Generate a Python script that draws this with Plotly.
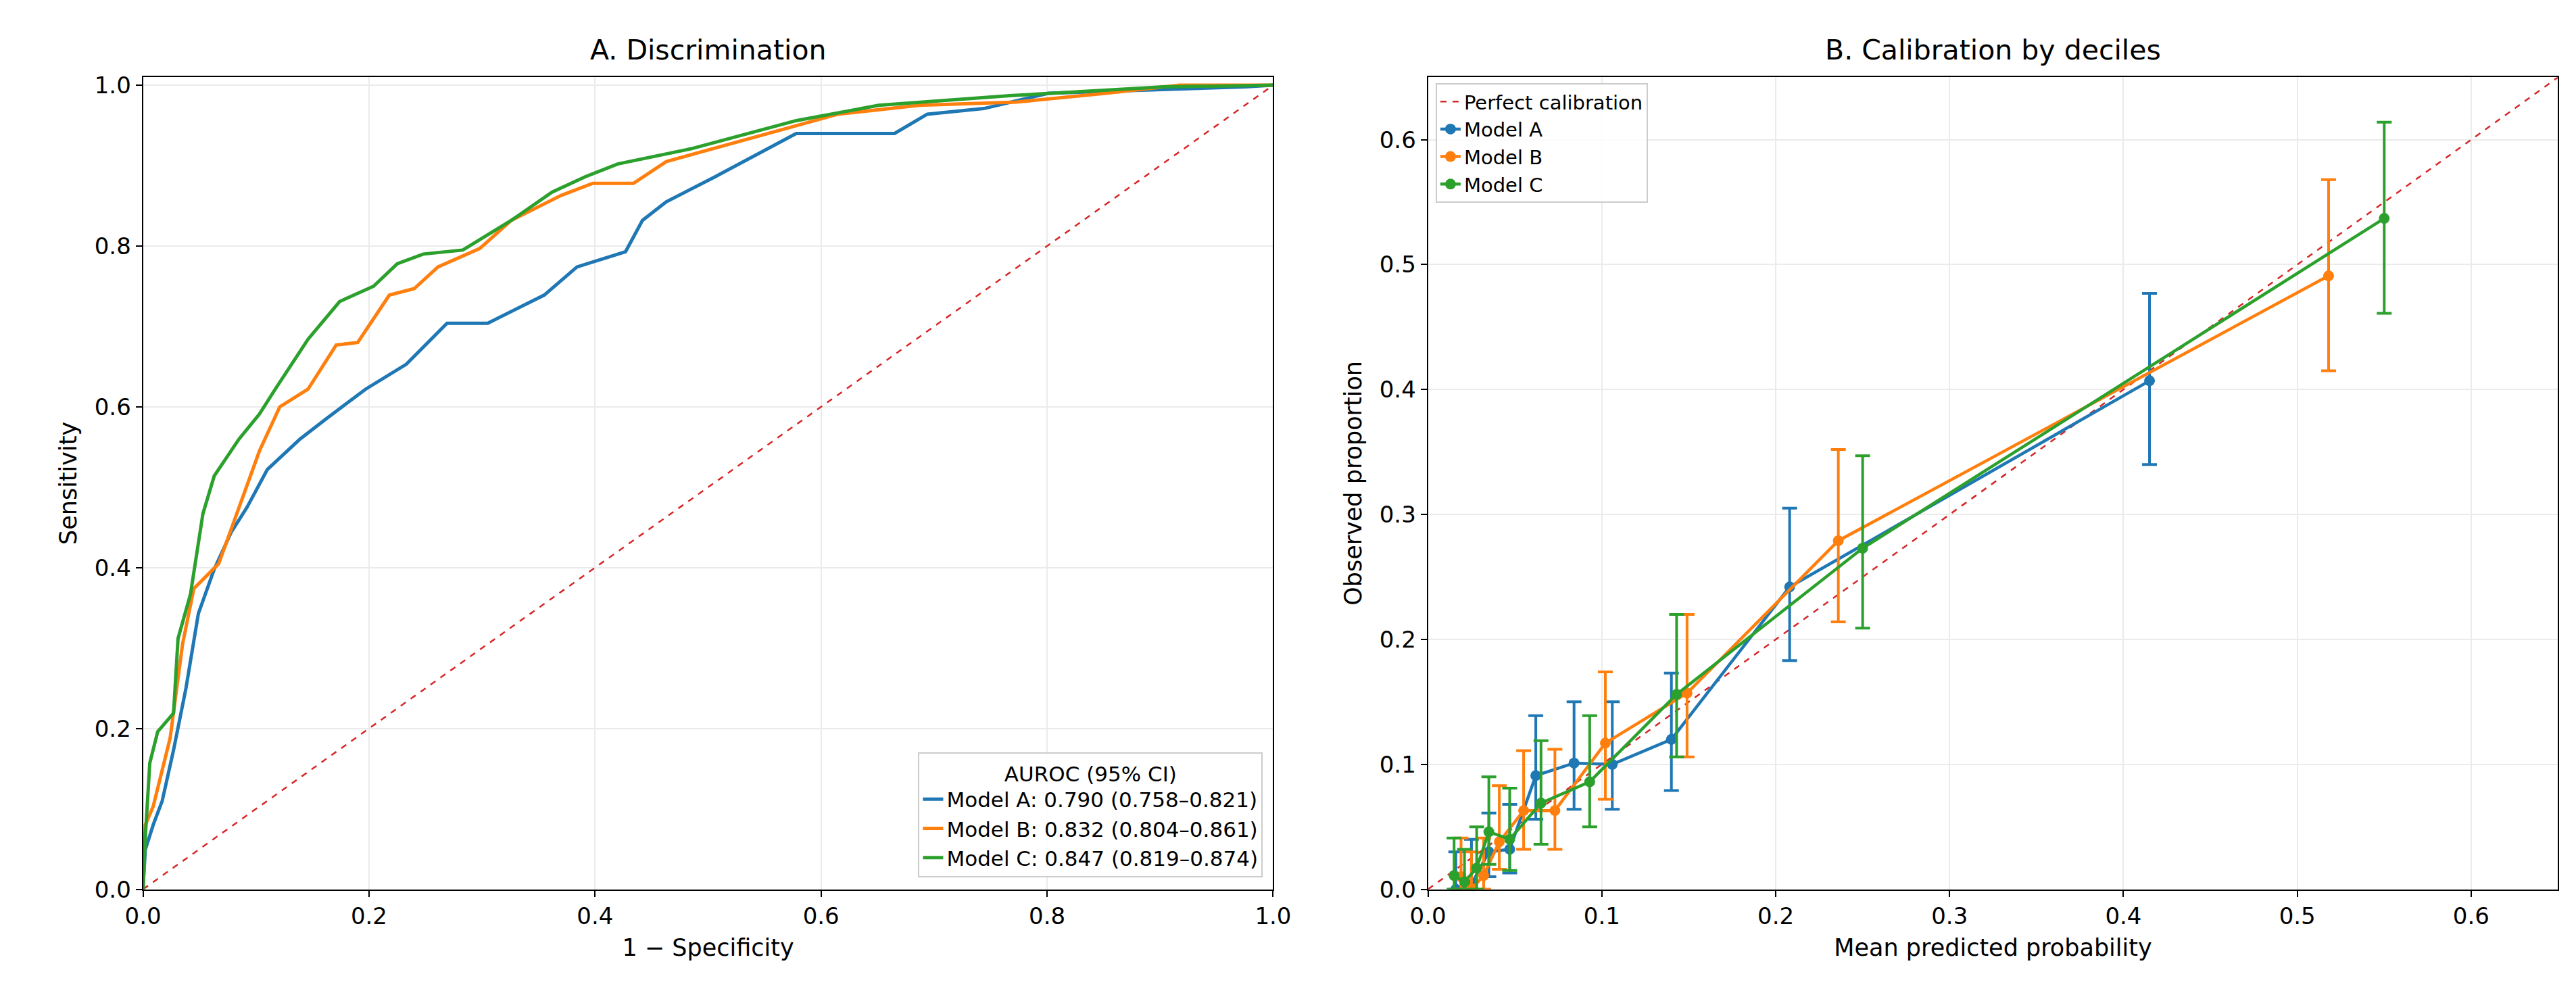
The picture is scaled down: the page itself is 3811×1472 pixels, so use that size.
import plotly.graph_objects as go

# ROC curves (1 - specificity, sensitivity)
roc_a_x = [0, 0.002, 0.009, 0.017, 0.027, 0.038, 0.049, 0.063, 0.078, 0.092, 0.11, 0.139, 0.161, 0.197, 0.233, 0.269, 0.305, 0.355, 0.384, 0.427, 0.442, 0.463, 0.506, 0.557, 0.578, 0.665, 0.694, 0.744, 0.801, 0.975, 1.0]
roc_a_y = [0, 0.049, 0.08, 0.11, 0.173, 0.25, 0.343, 0.398, 0.444, 0.475, 0.522, 0.56, 0.584, 0.622, 0.653, 0.704, 0.704, 0.739, 0.774, 0.793, 0.832, 0.855, 0.886, 0.925, 0.94, 0.94, 0.964, 0.971, 0.99, 0.998, 1.0]
roc_b_x = [0, 0.002, 0.009, 0.024, 0.035, 0.045, 0.067, 0.085, 0.103, 0.121, 0.146, 0.171, 0.19, 0.218, 0.24, 0.261, 0.298, 0.326, 0.37, 0.398, 0.434, 0.463, 0.542, 0.615, 0.687, 0.773, 0.852, 0.917, 1.0]
roc_b_y = [0, 0.08, 0.103, 0.188, 0.305, 0.374, 0.405, 0.475, 0.545, 0.6, 0.622, 0.677, 0.68, 0.739, 0.747, 0.774, 0.797, 0.832, 0.863, 0.878, 0.878, 0.905, 0.936, 0.964, 0.975, 0.979, 0.99, 1.0, 1.0]
roc_c_x = [0, 0.002, 0.006, 0.013, 0.027, 0.031, 0.042, 0.053, 0.063, 0.085, 0.103, 0.117, 0.146, 0.174, 0.204, 0.225, 0.248, 0.283, 0.326, 0.362, 0.391, 0.42, 0.485, 0.578, 0.651, 0.767, 0.903, 1.0]
roc_c_y = [0, 0.064, 0.157, 0.196, 0.219, 0.312, 0.367, 0.467, 0.514, 0.56, 0.591, 0.622, 0.684, 0.731, 0.75, 0.778, 0.79, 0.795, 0.832, 0.867, 0.886, 0.902, 0.921, 0.956, 0.975, 0.987, 0.998, 1.0]
roc_names = ["Model A: 0.790 (0.758–0.821)", "Model B: 0.832 (0.804–0.861)", "Model C: 0.847 (0.819–0.874)"]

# calibration by deciles
cal_a_x = [0.016, 0.025, 0.035, 0.047, 0.062, 0.084, 0.106, 0.140, 0.208, 0.415]
cal_a_y = [0.0, 0.004, 0.030, 0.032, 0.091, 0.101, 0.100, 0.120, 0.242, 0.407]
cal_a_lo = [0.0, 0.0, 0.010, 0.013, 0.056, 0.064, 0.064, 0.079, 0.183, 0.340]
cal_a_hi = [0.030, 0.040, 0.061, 0.068, 0.139, 0.150, 0.150, 0.173, 0.305, 0.477]
cal_b_x = [0.019, 0.025, 0.032, 0.041, 0.055, 0.073, 0.102, 0.149, 0.236, 0.518]
cal_b_y = [0.010, 0.0, 0.011, 0.038, 0.063, 0.063, 0.117, 0.157, 0.279, 0.491]
cal_b_lo = [0.0, 0.0, 0.0, 0.016, 0.032, 0.032, 0.072, 0.106, 0.214, 0.415]
cal_b_hi = [0.041, 0.030, 0.041, 0.083, 0.111, 0.112, 0.174, 0.220, 0.352, 0.568]
cal_c_x = [0.015, 0.021, 0.028, 0.035, 0.047, 0.065, 0.093, 0.143, 0.250, 0.550]
cal_c_y = [0.011, 0.006, 0.017, 0.046, 0.040, 0.069, 0.086, 0.156, 0.273, 0.537]
cal_c_lo = [0.0, 0.0, 0.0, 0.020, 0.015, 0.036, 0.050, 0.106, 0.209, 0.461]
cal_c_hi = [0.041, 0.032, 0.050, 0.090, 0.081, 0.119, 0.139, 0.220, 0.347, 0.614]

colors = ["#1f77b4", "#ff7f0e", "#2ca02c"]
FONT = "DejaVu Sans"

fig = go.Figure()

# panel A
fig.add_trace(go.Scatter(x=[0, 1], y=[0, 1], mode="lines", showlegend=False,
                         line=dict(color="#d62728", width=2.5, dash="dash"), xaxis="x", yaxis="y"))
for xs, ys, name, c in zip([roc_a_x, roc_b_x, roc_c_x], [roc_a_y, roc_b_y, roc_c_y], roc_names, colors):
    fig.add_trace(go.Scatter(x=xs, y=ys, mode="lines", name=name, line=dict(color=c, width=5),
                             xaxis="x", yaxis="y", legend="legend"))

# panel B
fig.add_trace(go.Scatter(x=[0, 0.65], y=[0, 0.65], mode="lines", name="Perfect calibration",
                         line=dict(color="#d62728", width=2.5, dash="dash"), xaxis="x2", yaxis="y2", legend="legend2"))
cal = [(cal_a_x, cal_a_y, cal_a_lo, cal_a_hi, "Model A"),
       (cal_b_x, cal_b_y, cal_b_lo, cal_b_hi, "Model B"),
       (cal_c_x, cal_c_y, cal_c_lo, cal_c_hi, "Model C")]
for (xs, ys, lo, hi, name), c in zip(cal, colors):
    fig.add_trace(go.Scatter(
        x=xs, y=ys, mode="lines+markers", name=name,
        line=dict(color=c, width=4.5), marker=dict(color=c, size=16),
        error_y=dict(type="data", symmetric=False,
                     array=[h - y for h, y in zip(hi, ys)],
                     arrayminus=[y - l for y, l in zip(ys, lo)],
                     color=c, thickness=4, width=11),
        xaxis="x2", yaxis="y2", legend="legend2"))

ax = dict(showline=True, linecolor="black", linewidth=2, mirror=True, ticks="outside",
          ticklen=9, tickwidth=2, tickcolor="black", showgrid=True, gridcolor="#ebebeb",
          gridwidth=2, zeroline=False, tickfont=dict(size=34, color="black"))

fig.update_layout(
    width=3811, height=1472, template="plotly_white",
    font=dict(family=FONT, color="black"),
    margin=dict(l=0, r=0, t=0, b=0),
    xaxis=dict(ax, domain=[0.047, 0.492], range=[0, 1], dtick=0.2, tickformat=".1f",
               title=dict(text="1 − Specificity", font=dict(size=35)), anchor="y"),
    yaxis=dict(ax, domain=[0.10, 0.932], range=[0, 1.01], dtick=0.2, tickformat=".1f",
               title=dict(text="Sensitivity", font=dict(size=35)), anchor="x"),
    xaxis2=dict(ax, domain=[0.553, 0.998], range=[0, 0.65], dtick=0.1, tickformat=".1f",
                title=dict(text="Mean predicted probability", font=dict(size=35)), anchor="y2"),
    yaxis2=dict(ax, domain=[0.10, 0.932], range=[0, 0.65], dtick=0.1, tickformat=".1f",
                title=dict(text="Observed proportion", font=dict(size=35)), anchor="x2"),
    legend=dict(x=0.488, y=0.112, xanchor="right", yanchor="bottom",
                title=dict(text="AUROC (95% CI)", side="top center", font=dict(size=31)),
                font=dict(size=31), bgcolor="rgba(255,255,255,0.85)",
                bordercolor="#cccccc", borderwidth=2),
    legend2=dict(x=0.556, y=0.926, xanchor="left", yanchor="top", font=dict(size=29),
                 bgcolor="rgba(255,255,255,0.85)", bordercolor="#cccccc", borderwidth=2),
    annotations=[
        dict(text="A. Discrimination", x=0.2695, y=0.942, xref="paper", yref="paper",
             xanchor="center", yanchor="bottom", showarrow=False, font=dict(size=41)),
        dict(text="B. Calibration by deciles", x=0.7755, y=0.942, xref="paper", yref="paper",
             xanchor="center", yanchor="bottom", showarrow=False, font=dict(size=41)),
    ],
)

fig.write_html("out.html")
